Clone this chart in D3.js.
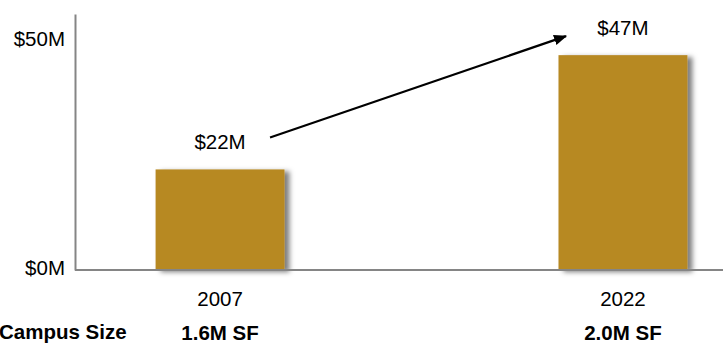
<!DOCTYPE html>
<html>
<head>
<meta charset="utf-8">
<script src="https://cdn.jsdelivr.net/npm/d3@7"></script>
<style>
  html, body { margin: 0; padding: 0; background: #fff; }
  svg { display: block; font-family: "Liberation Sans", Arial, Helvetica, sans-serif; }
</style>
</head>
<body>
<svg id="chart" width="723" height="345"></svg>
<script>
// Operating cost by year, in $M
const years = ["2007", "2022"];
const costs = [22, 47];
const valueLabels = ["$22M", "$47M"];
const campusSizes = ["1.6M SF", "2.0M SF"];
const yTicks = [0, 50];
const yMax = 56;

const W = 723, H = 345;
const plot = { left: 75, right: 768, top: 14, bottom: 270 };
const barColor = "#B78923";
const axisColor = "#858585";

const svg = d3.select("#chart");

// soft shadow cast to the right of each bar
const defs = svg.append("defs");
const f = defs.append("filter").attr("id", "barShadow")
  .attr("x", "-10%").attr("y", "-10%").attr("width", "130%").attr("height", "130%");
f.append("feDropShadow")
  .attr("dx", 5).attr("dy", 2).attr("stdDeviation", 2.5)
  .attr("flood-color", "#000").attr("flood-opacity", 0.5);

const x = d3.scaleBand().domain(years).range([plot.left, plot.right])
  .paddingInner(0.68).paddingOuter(0.2);
const y = d3.scaleLinear().domain([0, yMax]).range([plot.bottom, plot.top]);

// bars
svg.append("g").selectAll("rect")
  .data(years)
  .join("rect")
  .attr("x", d => x(d))
  .attr("y", (d, i) => y(costs[i]))
  .attr("width", x.bandwidth())
  .attr("height", (d, i) => y(0) - y(costs[i]))
  .attr("fill", barColor)
  .attr("filter", "url(#barShadow)");

// y axis: vertical rule with $ labels
const yAxis = d3.axisLeft(y).tickValues(yTicks).tickSize(0).tickPadding(10)
  .tickFormat(d => `$${d}M`);
const gy = svg.append("g").attr("transform", `translate(${plot.left},0)`).call(yAxis);
gy.select(".domain").attr("stroke", axisColor).attr("stroke-width", 2);
gy.selectAll(".tick text").attr("font-size", 20.5).attr("fill", "#000")
  .attr("dy", "0.2em")
  .attr("font-family", "Liberation Sans, Arial, sans-serif");

// baseline
svg.append("line")
  .attr("x1", plot.left).attr("x2", W)
  .attr("y1", y(0)).attr("y2", y(0))
  .attr("stroke", axisColor).attr("stroke-width", 2);

// x axis year labels
const xAxis = d3.axisBottom(x).tickSize(0).tickPadding(21);
const gx = svg.append("g").attr("transform", `translate(0,${y(0)})`).call(xAxis);
gx.select(".domain").remove();
gx.selectAll(".tick text").attr("font-size", 20.5).attr("fill", "#000")
  .attr("font-family", "Liberation Sans, Arial, sans-serif");

// value labels above bars
svg.append("g").selectAll("text")
  .data(years)
  .join("text")
  .attr("x", d => x(d) + x.bandwidth() / 2)
  .attr("y", (d, i) => y(costs[i]) - 20)
  .attr("text-anchor", "middle")
  .attr("font-size", 20.5)
  .attr("fill", "#000")
  .text((d, i) => valueLabels[i]);

// campus size row
svg.append("text")
  .attr("x", -1).attr("y", 339)
  .attr("font-size", 20.5).attr("font-weight", "bold").attr("fill", "#000")
  .text("Campus Size");
svg.append("g").selectAll("text")
  .data(years)
  .join("text")
  .attr("x", d => x(d) + x.bandwidth() / 2)
  .attr("y", 340)
  .attr("text-anchor", "middle")
  .attr("font-size", 20.5).attr("font-weight", "bold").attr("fill", "#000")
  .text((d, i) => campusSizes[i]);

// growth arrow between the two value labels
defs.append("marker").attr("id", "arrowHead")
  .attr("viewBox", "0 0 10 10").attr("refX", 9).attr("refY", 5)
  .attr("markerWidth", 6).attr("markerHeight", 6)
  .attr("markerUnits", "strokeWidth")
  .attr("orient", "auto")
  .append("path").attr("d", "M0,1 L10,5 L0,9 Z").attr("fill", "#000");

const c0 = x(years[0]) + x.bandwidth() / 2;
const c1 = x(years[1]) + x.bandwidth() / 2;
svg.append("line")
  .attr("x1", c0 + 50).attr("y1", y(costs[0]) - 32)
  .attr("x2", c1 - 57).attr("y2", y(costs[1]) - 19)
  .attr("stroke", "#000").attr("stroke-width", 2.2)
  .attr("marker-end", "url(#arrowHead)");
</script>
</body>
</html>
